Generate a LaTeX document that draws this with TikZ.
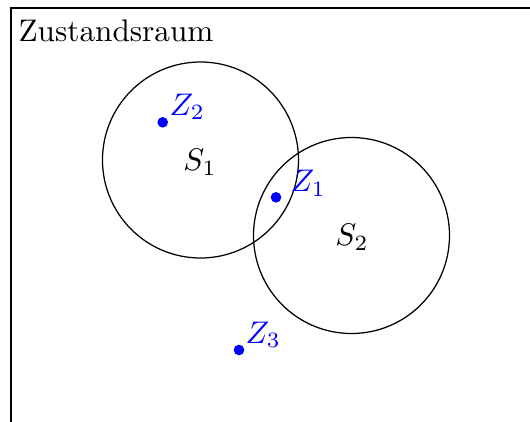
\documentclass[tikz,border=0pt]{standalone}
\begin{document}
\begin{tikzpicture}[x=0.32pt,y=-0.32pt,
  frame/.style={draw=black,line width=0.8pt},
  setcirc/.style={draw=black,circle,line width=0.4pt,minimum size=196*0.32pt,inner sep=0pt},
  pt/.style={circle,fill=blue,inner sep=0pt,minimum size=3.4pt},
  ptlabel/.style={text=blue,anchor=base west,inner sep=0pt},
  setlabel/.style={inner sep=0pt}]
\useasboundingbox (0,0) rectangle (530,421);
\clip (0,0) rectangle (530,421);
\draw[frame] (11,8) rectangle (600,500);
\node[anchor=base west,inner sep=0pt] (title) at (18,42) {Zustandsraum};
\node[setcirc] (c1) at (200.5,160) {};
\node[setcirc] (c2) at (351.5,235.5) {};
\node[setlabel] (s1) at (200,162) {$S_1$};
\node[setlabel] (s2) at (352,237) {$S_2$};
\node[pt] (z1) at (276,197.3) {};
\node[pt] (z2) at (162.7,122.3) {};
\node[pt] (z3) at (239,350) {};
\node[ptlabel] (l1) at (290,191.7) {$Z_1$};
\node[ptlabel] (l2) at (169,115) {$Z_2$};
\node[ptlabel] (l3) at (245,343.3) {$Z_3$};
\end{tikzpicture}
\end{document}
